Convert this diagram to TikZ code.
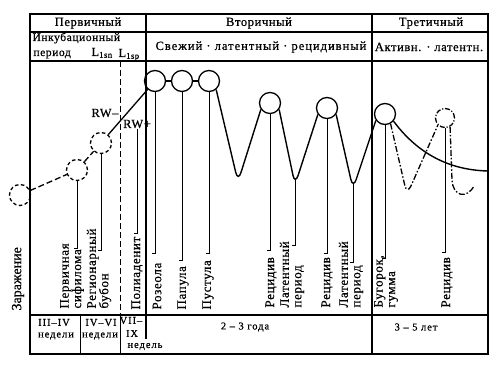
\documentclass[tikz,border=0pt]{standalone}
\usepackage{fontspec}
\setmainfont{Liberation Serif}[LetterSpace=5,FakeBold=0.6]
\usetikzlibrary{calc}
\begin{document}
\begin{tikzpicture}[x=1pt,y=-1pt,line width=1pt,
  every node/.style={inner sep=0pt},
  frame/.style={line width=1.4pt},
  scirc/.style={circle,draw,line width=1.3pt,minimum size=21pt},
  dcirc/.style={circle,draw,line width=1.3pt,minimum size=21pt,dash pattern=on 3.5pt off 2.5pt},
  ddcirc/.style={circle,draw,line width=1.3pt,minimum size=19pt,dash pattern=on 5pt off 1.8pt on 1.2pt off 1.8pt},
  dline/.style={line width=1.3pt,dash pattern=on 6pt off 3pt},
  ddot/.style={line width=1.3pt,dash pattern=on 6pt off 2pt on 1.5pt off 2pt},
  wave/.style={line width=1.4pt,rounded corners=10pt},
  conn/.style={line width=1pt},
  hdr/.style={font=\fontsize{12.5}{13}\selectfont},
  lbl/.style={rotate=90,anchor=west,align=left,font=\fontsize{13}{12.5}\selectfont},
  tbl/.style={font=\fontsize{10.5}{11}\selectfont\addfontfeature{LetterSpace=9}}]
\useasboundingbox (0,0) rectangle (500,366);
% frame and table
\coordinate (TL) at (30,14);
\coordinate (BR) at (488,354);
\draw[frame] (TL) rectangle (BR);
\draw[frame] (30,32) -- (488,32);
\draw[frame] (30,61) -- (488,61);
\draw[frame] (30,315) -- (488,315);
\draw[frame] (146,14) -- (146,339);
\draw[frame] (372,14) -- (372,354);
\draw[line width=1pt,dash pattern=on 6pt off 3pt] (120,61) -- (120,315);
\draw[line width=1pt] (120,315) -- (120,354);
\draw[line width=1pt] (80,315) -- (80,354);
% headers
\node[hdr] (h1) at (88,23) {Первичный};
\node[hdr] (h2) at (259,23) {Вторичный};
\node[hdr] (h3) at (431,23) {Третичный};
\node[hdr,anchor=base west,font=\fontsize{11.5}{12}\selectfont] (h4) at (32,41) {Инкубационный};
\node[hdr,anchor=base west,font=\fontsize{11.5}{12}\selectfont] (h5) at (33,56) {период};
\node[hdr,anchor=base west] (h6) at (91,56) {L\textsubscript{1sn}};
\node[hdr,anchor=base west] (h7) at (118,57) {L\textsubscript{1sp}};
\node[hdr,font=\fontsize{12.5}{13}\selectfont\addfontfeature{LetterSpace=8}] (h8) at (261,47) {Свежий · латентный · рецидивный};
\node[hdr] (h9) at (429,47) {Активн. · латентн.};
% circles
\node[dcirc] (C1) at (20,195) {};
\node[dcirc] (C2) at (77,170) {};
\node[dcirc] (C3) at (101,143) {};
\node[scirc] (S1) at (155,81) {};
\node[scirc] (S2) at (182,81) {};
\node[scirc] (S3) at (209,81) {};
\node[scirc] (S4) at (270,103) {};
\node[scirc] (S5) at (327,108) {};
\node[scirc] (S6) at (385,114) {};
\node[ddcirc] (D) at (445,118) {};
\node[hdr] (rw1) at (105,113) {RW–};
\node[hdr] (rw2) at (137,124) {RW+};
% course line
\draw[dline] (C1) -- (C2);
\draw[dline] (C2) -- (C3);
\draw[line width=1.3pt] (C3) -- (S1);
\draw[line width=1.3pt] (S1) -- (S2);
\draw[line width=1.3pt] (S2) -- (S3);
\coordinate (T0) at (238,182);
\coordinate (T1) at (295,185);
\coordinate (T2) at (353,189);
\coordinate (T3) at (407,195);
\draw[wave] (S3.-50) -- (T0) -- (S4.-145);
\draw[wave] (S4.-35) -- (T1) -- (S5.-145);
\draw[wave] (S5.-35) -- (T2) -- (S6.-145);
\draw[wave,ddot] (S6.-60) -- (T3) -- (D.-135);
\coordinate (Dend) at (474,186);
\draw[ddot] (D.-60) -- (452,180) .. controls (453,197) and (467,199) .. (Dend);
\coordinate (R) at (488,171);
\draw[line width=1.4pt] (S6.-40) .. controls (415,150) and (445,170) .. (R);
% connector ends
\coordinate (e1) at (77,248);
\coordinate (e2) at (101,250);
\coordinate (e3) at (137,233);
\coordinate (e4) at (155,253);
\coordinate (e5) at (182,260);
\coordinate (e6) at (209,253);
\coordinate (e7) at (270,250);
\coordinate (t1) at (295,180);
\coordinate (e8) at (295,245);
\coordinate (e9) at (327,253);
\coordinate (t2) at (353,184);
\coordinate (e10) at (353,262);
\coordinate (e11) at (385,258);
\coordinate (e12) at (445,252);
\draw[conn] (C2.south) -- (e1) -- ++(-3,0);
\draw[conn] (C3.south) -- (e2) -- ++(-3,0);
\draw[conn] (rw2.south) -- (e3) -- ++(-3,0);
\draw[conn] (S1.south) -- (e4) -- ++(-3,0);
\draw[conn] (S2.south) -- (e5) -- ++(-3,0);
\draw[conn] (S3.south) -- (e6) -- ++(-3,0);
\draw[conn] (S4.south) -- (e7) -- ++(-3,0);
\draw[conn] (t1) -- (e8) -- ++(-3,0);
\draw[conn] (S5.south) -- (e9) -- ++(-3,0);
\draw[conn] (t2) -- (e10) -- ++(-3,0);
\draw[conn] (S6.south) -- (e11) -- ++(-3,0);
\draw[conn] (D.south) -- (e12) -- ++(-3,0);
% labels
\node[lbl,font=\fontsize{14}{14}\selectfont\addfontfeature{LetterSpace=0}] (L0) at (18,311) {Заражение};
\node[lbl] (L1) at (72,309) {Первичная\\сифилома};
\node[lbl] (L2) at (99,309) {Регионарный\\бубон};
\node[lbl] (L3) at (137,310) {Полиаденит};
\node[lbl] (L4) at (157,310) {Розеола};
\node[lbl] (L5) at (183,310) {Папула};
\node[lbl] (L6) at (208,310) {Пустула};
\node[lbl] (L7) at (271,308) {Рецидив};
\node[lbl] (L8) at (292,308) {Латентный\\период};
\node[lbl] (L9) at (327,308) {Рецидив};
\node[lbl] (L10) at (351,308) {Латентный\\период};
\node[lbl] (L11) at (386,308) {Бугорок,\\гумма};
\node[lbl] (L12) at (447,308) {Рецидив};
% bottom table
\node[tbl] (b1) at (54,322.5) {III–IV};
\node[tbl] (b2) at (56,336) {недели};
\node[tbl] (b3) at (101,322.5) {IV–VI};
\node[tbl] (b4) at (100,336) {недели};
\node[tbl] (b5) at (131,320.5) {VII–};
\node[tbl] (b6) at (132,333.5) {IX};
\node[tbl] (b7) at (145,346.5) {недель};
\node[tbl] (b8) at (245,327) {2 – 3 года};
\node[tbl] (b9) at (416,327) {3 – 5 лет};
\end{tikzpicture}
\end{document}
